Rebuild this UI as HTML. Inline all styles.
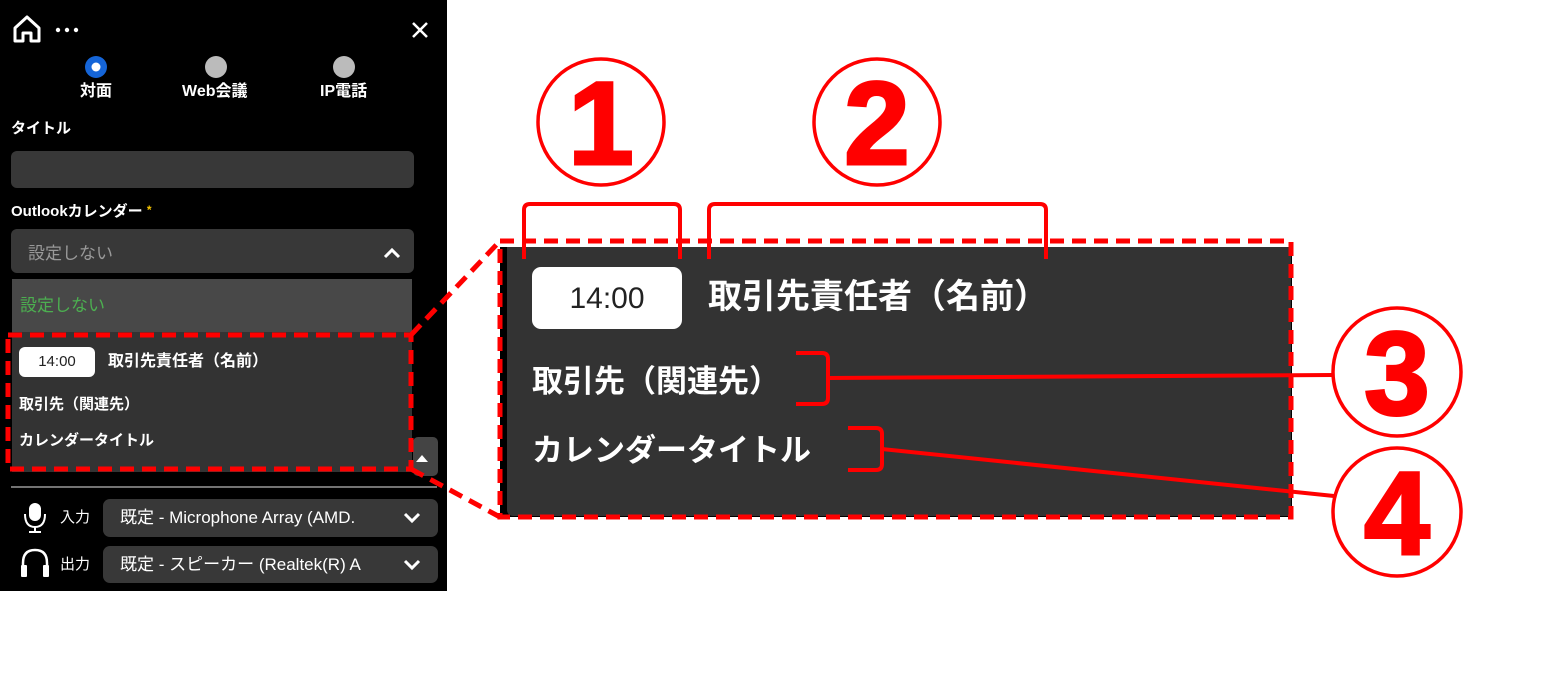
<!DOCTYPE html>
<html><head><meta charset="utf-8"><style>
*{margin:0;padding:0;box-sizing:border-box}
body{width:1549px;height:686px;background:#fff;position:relative;overflow:hidden;font-family:"Liberation Sans","Noto Sans CJK JP",sans-serif}
.a{position:absolute}
.t{position:absolute;color:#fff;white-space:nowrap;line-height:1}
</style></head><body>
<div class="a" style="left:0;top:0;width:447px;height:591px;background:#000"></div>
<svg class="a" style="left:0;top:0" width="447" height="591">
<path d="M15 28 L27 17 L39 28 V41 H31 V33 H23 V41 H15 Z" fill="none" stroke="#fff" stroke-width="3" stroke-linejoin="round"/>
<circle cx="58" cy="30" r="2.2" fill="#fff"/><circle cx="67" cy="30" r="2.2" fill="#fff"/><circle cx="76" cy="30" r="2.2" fill="#fff"/>
<path d="M413 23 L427 37 M427 23 L413 37" stroke="#fff" stroke-width="2.5"/>
<circle cx="96" cy="67" r="11" fill="#1565d8"/><circle cx="96" cy="67" r="4.5" fill="#fff"/>
<circle cx="216" cy="67" r="11" fill="#bbb"/><circle cx="344" cy="67" r="11" fill="#bbb"/>
<rect x="11" y="151" width="403" height="37" rx="6" fill="#383838"/>
<rect x="11" y="229" width="403" height="44" rx="6" fill="#383838"/>
<path d="M385 257 L392 250 L399 257" fill="none" stroke="#fff" stroke-width="3"/>
<rect x="12" y="279" width="400" height="53" fill="#484848"/>
<rect x="12" y="332" width="400" height="140" fill="#333"/>
<rect x="413" y="437" width="25" height="39" rx="5" fill="#444"/>
<path d="M416 462 L422 455 L428 462 Z" fill="#fff"/>
<rect x="19" y="347" width="76" height="30" rx="6" fill="#fff"/>
<line x1="11" y1="487" x2="437" y2="487" stroke="#999" stroke-width="1.5"/>
<rect x="103" y="499" width="335" height="38" rx="7" fill="#383838"/>
<rect x="103" y="546" width="335" height="37" rx="7" fill="#383838"/>
<path d="M405 514 L412 521 L419 514" fill="none" stroke="#fff" stroke-width="3"/>
<path d="M405 561 L412 568 L419 561" fill="none" stroke="#fff" stroke-width="3"/>
<rect x="29" y="503" width="12" height="18" rx="6" fill="#fff"/>
<path d="M25 514 Q25 527 35 527 Q45 527 45 514" fill="none" stroke="#fff" stroke-width="2"/>
<line x1="35" y1="527" x2="35" y2="532" stroke="#fff" stroke-width="2"/><line x1="29" y1="532" x2="41" y2="532" stroke="#fff" stroke-width="2"/>
<path d="M23 573 V563 Q23 550 35 550 Q47 550 47 563 V573" fill="none" stroke="#fff" stroke-width="2.5"/>
<rect x="21" y="565" width="6" height="12" rx="1" fill="#fff"/><rect x="43" y="565" width="6" height="12" rx="1" fill="#fff"/>
</svg>
<div class="t" style="left:80px;top:84px;font-size:16px;font-weight:bold">対面</div>
<div class="t" style="left:182px;top:84px;font-size:16px;font-weight:bold">Web会議</div>
<div class="t" style="left:320px;top:84px;font-size:16px;font-weight:bold">IP電話</div>
<div class="t" style="left:11px;top:121px;font-size:15px;font-weight:bold">タイトル</div>
<div class="t" style="left:11px;top:204px;font-size:15px;font-weight:bold">Outlookカレンダー <span style="color:#f5c400;font-size:12px;vertical-align:top">*</span></div>
<div class="t" style="left:28px;top:245px;font-size:17px;color:#999">設定しない</div>
<div class="t" style="left:20px;top:297px;font-size:17px;color:#4caf50">設定しない</div>
<div class="t" style="left:19px;top:354px;width:76px;text-align:center;font-size:15px;color:#222">14:00</div>
<div class="t" style="left:108px;top:354px;font-size:16px;font-weight:bold">取引先責任者（名前）</div>
<div class="t" style="left:19px;top:397px;font-size:15px;font-weight:bold">取引先（関連先）</div>
<div class="t" style="left:19px;top:433px;font-size:15px;font-weight:bold">カレンダータイトル</div>
<div class="t" style="left:60px;top:510px;font-size:15px">入力</div>
<div class="t" style="left:60px;top:557px;font-size:15px">出力</div>
<div class="t" style="left:120px;top:509px;font-size:17px">既定 - Microphone Array (AMD.</div>
<div class="t" style="left:120px;top:556px;font-size:17px">既定 - スピーカー (Realtek(R) A</div>

<div class="a" style="left:500px;top:247px;width:792px;height:270px;background:#000"></div>
<div class="a" style="left:507px;top:247px;width:784px;height:269px;background:#333;border-radius:0 0 0 6px"></div>
<div class="a" style="left:532px;top:267px;width:150px;height:62px;background:#fff;border-radius:9px"></div>
<div class="t" style="left:532px;top:284px;width:150px;text-align:center;font-size:30px;color:#222">14:00</div>
<div class="t" style="left:708px;top:280px;font-size:34px;font-weight:bold">取引先責任者（名前）</div>
<div class="t" style="left:532px;top:366px;font-size:31px;font-weight:bold">取引先（関連先）</div>
<div class="t" style="left:532px;top:435px;font-size:31px;font-weight:bold">カレンダータイトル</div>

<svg class="a" style="left:0;top:0" width="1549" height="686">
<g fill="none" stroke="#f00" stroke-width="5" stroke-dasharray="14 8">
<rect x="8" y="335" width="403" height="134"/>
<rect x="500" y="241" width="791" height="276"/>
<line x1="411" y1="335" x2="500" y2="241"/>
<line x1="411" y1="469" x2="500" y2="517"/>
</g>
<g fill="none" stroke="#f00" stroke-width="4">
<path d="M524 259 V210 Q524 204 530 204 H674 Q680 204 680 210 V259"/>
<path d="M709 259 V210 Q709 204 715 204 H1040 Q1046 204 1046 210 V259"/>
<path d="M796 353 H822 Q828 353 828 359 V398 Q828 404 822 404 H796"/>
<path d="M848 428 H876 Q882 428 882 434 V464 Q882 470 876 470 H848"/>
<line x1="828" y1="378" x2="1333" y2="375"/>
<line x1="882" y1="449" x2="1334" y2="496"/>
</g>
<g fill="none" stroke="#f00" stroke-width="3.5">
<circle cx="601" cy="122" r="63"/>
<circle cx="877" cy="122" r="63"/>
<circle cx="1397" cy="372" r="64"/>
<circle cx="1397" cy="512" r="64"/>
</g>
<g fill="#f00" stroke="#f00" stroke-width="3" font-family="Liberation Sans, sans-serif" font-weight="bold" font-size="118" text-anchor="middle">
<text x="601" y="164">1</text>
<text x="877" y="164">2</text>
<text x="1397" y="414">3</text>
<text x="1397" y="554">4</text>
</g>
</svg>
</body></html>
